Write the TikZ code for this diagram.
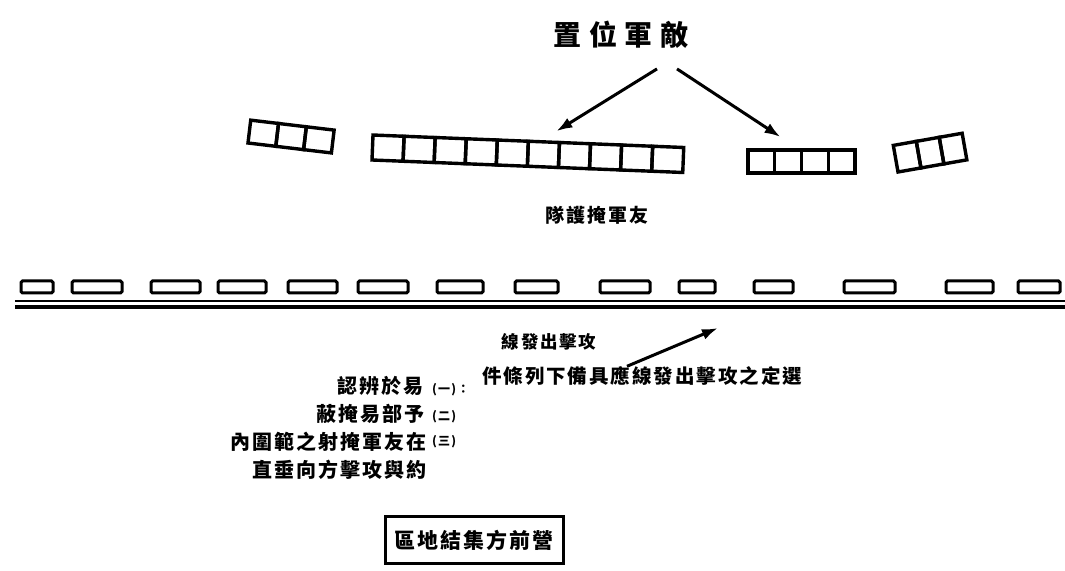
\documentclass[tikz,border=0pt]{standalone}
\usepackage{fontspec}
\newfontfamily\cjk{Noto Sans CJK TC}[LetterSpace=10]
\newfontfamily\cjkt{Noto Sans CJK TC}[LetterSpace=27]
\usetikzlibrary{arrows.meta,positioning}

\begin{document}
\begin{tikzpicture}[x=1pt, y=1pt,
  cell/.style={draw, line width=3.4pt},
  car/.style={draw, line width=3pt, rounded corners=1.5pt},
  arr/.style={line width=3pt, -{Latex[length=16pt,width=11pt]}},
  txt/.style={inner sep=0pt, font=\cjk\bfseries\fontsize{#1}{#1}\selectfont}]
  \useasboundingbox (0,0) rectangle (1065,570);

  % enemy position
  \node[inner sep=0pt, font=\cjkt\bfseries\fontsize{28}{28}\selectfont] (title) at (621,535) {置位軍敵};
  \foreach \nm/\x/\y/\n/\w/\h/\a in {gA/248/427/3/28/23/-6.8, gB/372/410/10/31.1/25/-2.3, gC/748/397/4/26.75/23/0, gD/898/398/3/23.3/27/10} {
    \begin{scope}[shift={(\x,\y)}, rotate=\a]
      \foreach \k in {1,...,\n}
        \draw[cell] ({(\k-1)*\w},0) rectangle ({\k*\w},\h);
      \coordinate (\nm) at ({\n*\w/2},\h);
    \end{scope}
  }
  \draw[arr] ([shift={(36,-20)}]title.south) -- ([shift={(28,10)}]gB);
  \draw[arr] ([shift={(56,-20)}]title.south) -- ([shift={(-21,13)}]gC);
  \node[txt=19] (cover) at (597,355) {隊護掩軍友};

  % line of departure
  \foreach \xa/\xb in {21/53, 72/122, 151/200, 218/266, 288/337, 358/408, 437/483, 515/558, 600/650, 679/715, 754/793, 844/895, 946/993, 1018/1060}
    \draw[car] (\xa,277) rectangle (\xb,289);
  \draw[line width=2pt] (15,268.5) -- (1065,268.5);
  \draw[line width=3.4pt] (15,263) -- (1065,263);
  \coordinate (tipL) at (718,242);

  % conditions
  \node[txt=17.5] (depart) at (549,228) {線發出擊攻};
  \node[txt=19.5, anchor=west] (lng) at (482,194) {件條列下備具應線發出擊攻之定選};
  \draw[arr] ([xshift=145pt]lng.north west) -- (tipL);
  \node[txt=20, anchor=east] (lnA) at (424,184) {認辨於易};
  \node[txt=20, anchor=east] (lnB) at (425,156) {蔽掩易部予};
  \node[txt=20, anchor=east] (lnC) at (427,128) {內圍範之射掩軍友在};
  \node[txt=20, anchor=east] (lnD) at (427,100) {直垂向方擊攻與約};
  \node[txt=12, anchor=west] (numA) at (432,180) {(一)：};
  \node[txt=12, anchor=west] (numB) at (432,153) {(二)};
  \node[txt=12, anchor=west] (numC) at (432,128) {(三)};

  % assembly area
  \node[txt=21, draw, line width=3pt, minimum width=178pt, minimum height=46pt] (camp) at (474,30) {區地結集方前營};
\end{tikzpicture}
\end{document}
